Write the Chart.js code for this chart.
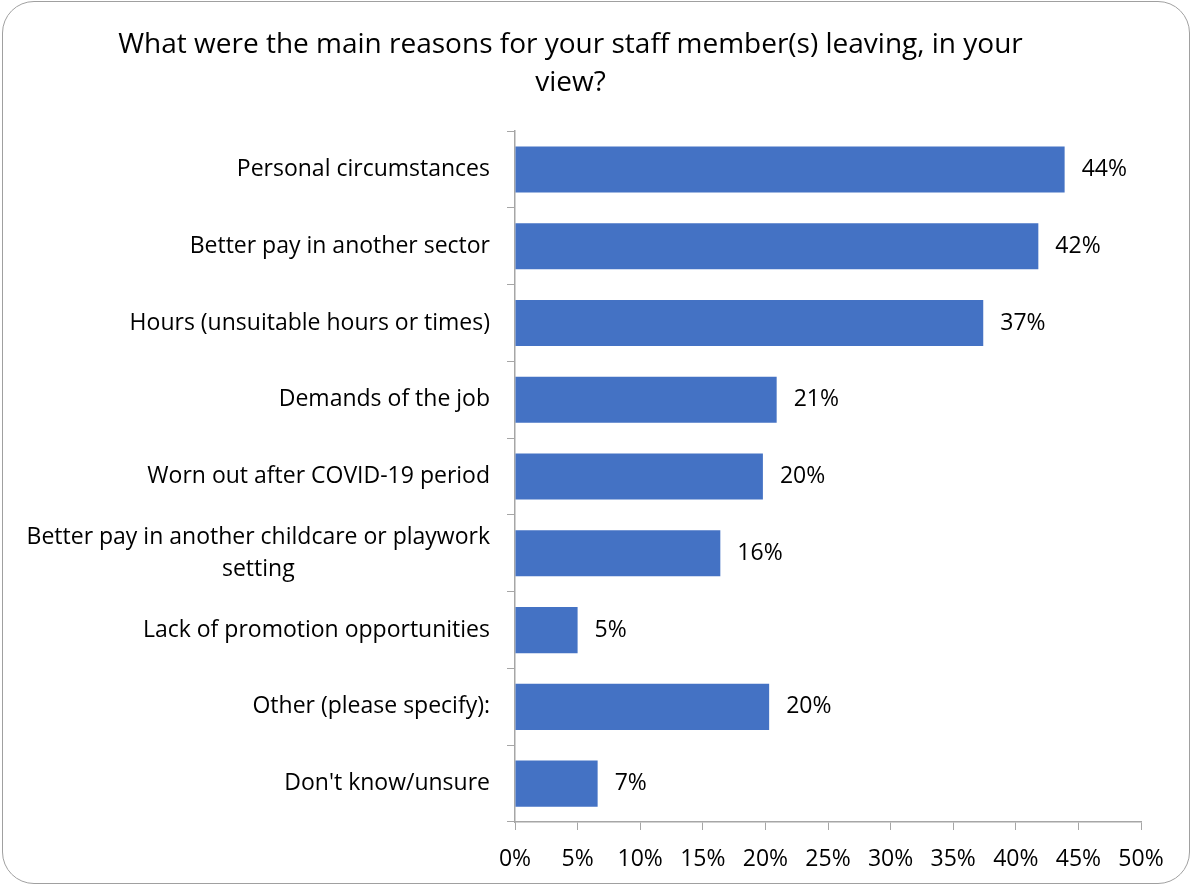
<!DOCTYPE html>
<html>
<head>
<meta charset="utf-8">
<script src="https://cdn.jsdelivr.net/npm/chart.js@4.4.0/dist/chart.umd.min.js"></script>
<style>
  body { margin: 0; background: #fff; }
  #wrap { position: relative; width: 1192px; height: 886px; }
  #frame { position: absolute; left: 2px; top: 1px; width: 1186px; height: 881px;
           border: 1.5px solid #a0a0a0; border-radius: 32px; pointer-events: none; }
</style>
</head>
<body>
<div id="wrap">
  <canvas id="reasons" width="1192" height="886"></canvas>
  <div id="frame"></div>
</div>
<script>
// survey results
let titleLines = ["What were the main reasons for your staff member(s) leaving, in your", "view?"];
let reasons = [
  "Personal circumstances",
  "Better pay in another sector",
  "Hours (unsuitable hours or times)",
  "Demands of the job",
  "Worn out after COVID-19 period",
  ["Better pay in another childcare or playwork", "setting"],
  "Lack of promotion opportunities",
  "Other (please specify):",
  "Don't know/unsure"
];
let shares = [43.9, 41.8, 37.4, 20.9, 19.8, 16.4, 5.0, 20.3, 6.6];
let xMax = 50;
let xStep = 5;

const FONT = "'Open Sans'";
const axisGrey = "#a6a6a6";

// category labels drawn ourselves so wrapped lines are centred on each other
const categoryLabels = {
  id: "categoryLabels",
  afterDraw(chart) {
    const ctx = chart.ctx;
    const y = chart.scales.y;
    ctx.save();
    ctx.font = "23px " + FONT;
    ctx.fillStyle = "#000";
    ctx.textBaseline = "middle";
    ctx.textAlign = "center";
    const right = y.right - 25;
    reasons.forEach((lab, i) => {
      const lines = Array.isArray(lab) ? lab : [lab];
      const w = Math.max(...lines.map(l => ctx.measureText(l).width));
      const cy = y.getPixelForValue(i);
      const lh = 32;
      lines.forEach((l, j) => {
        ctx.fillText(l, right - w / 2, cy + (j - (lines.length - 1) / 2) * lh);
      });
    });
    ctx.restore();
  }
};

// value labels at the end of each bar
const valueLabels = {
  id: "valueLabels",
  afterDatasetsDraw(chart) {
    const ctx = chart.ctx;
    const meta = chart.getDatasetMeta(0);
    ctx.save();
    ctx.font = "23px " + FONT;
    ctx.fillStyle = "#000";
    ctx.textBaseline = "middle";
    ctx.textAlign = "left";
    meta.data.forEach((bar, i) => {
      ctx.fillText(Math.round(shares[i]) + "%", bar.x + 17, bar.y);
    });
    ctx.restore();
  }
};

let chart = document.querySelector("#reasons");
new Chart(chart, {
  type: "bar",
  data: {
    labels: reasons,
    datasets: [
      {
        data: shares,
        backgroundColor: "#4472c4",
        borderWidth: 0,
        barPercentage: 0.6,
        categoryPercentage: 1.0
      }
    ]
  },
  options: {
    indexAxis: "y",
    responsive: false,
    animation: false,
    layout: { padding: { left: 0, right: 51, top: 0, bottom: 0 } },
    plugins: {
      legend: { display: false },
      tooltip: { enabled: false },
      title: {
        display: true,
        text: titleLines,
        color: "#000",
        font: { family: FONT, size: 28, weight: "normal", lineHeight: 1.36 },
        padding: { top: 26, bottom: 29 }
      }
    },
    scales: {
      y: {
        ticks: { display: false },
        grid: { drawOnChartArea: false, tickLength: 8, color: axisGrey, offset: true },
        border: { color: axisGrey, width: 1.5 },
        afterFit: (s) => { s.width = 515; }
      },
      x: {
        min: 0,
        max: xMax,
        ticks: {
          stepSize: xStep,
          padding: 16,
          color: "#000",
          font: { family: FONT, size: 23 },
          callback: (v) => v + "%"
        },
        grid: { drawOnChartArea: false, tickLength: 8, color: axisGrey },
        border: { color: axisGrey, width: 1.5 },
        afterFit: (s) => { s.height = 64; }
      }
    }
  },
  plugins: [categoryLabels, valueLabels]
});
</script>
</body>
</html>
